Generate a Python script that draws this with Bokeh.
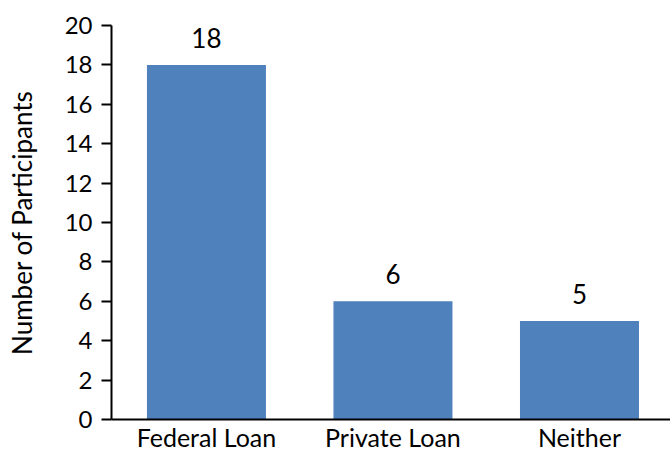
from bokeh.plotting import figure
from bokeh.models import ColumnDataSource, FixedTicker, Range1d, LabelSet
from bokeh.core.properties import value
from bokeh.embed import file_html
from bokeh.resources import INLINE

categories = ["Federal Loan", "Private Loan", "Neither"]
participants = [18, 6, 5]
y_ticks = [0, 2, 4, 6, 8, 10, 12, 14, 16, 18, 20]

xs = list(range(len(categories)))
src = ColumnDataSource(dict(x=xs, top=participants, label=[str(v) for v in participants]))

FONT = "Lato"

p = figure(width=670, height=454, output_backend="svg", toolbar_location=None,
           x_range=Range1d(-0.509, 2.488), y_range=Range1d(0, 20),
           min_border_left=111, min_border_right=0, min_border_top=25, min_border_bottom=33)
p.outline_line_color = None
p.grid.visible = False
p.background_fill_color = "white"

p.vbar(x="x", top="top", width=0.638, bottom=0, source=src, color="#4F81BD", line_color=None)

labels = LabelSet(x="x", y="top", text="label", source=src, text_align="center",
                  text_baseline="alphabetic", y_offset=17, text_font=value(FONT),
                  text_font_size="26px", text_color="black")
p.add_layout(labels)

p.xaxis.ticker = FixedTicker(ticks=xs)
p.xaxis.major_label_overrides = {i: c for i, c in enumerate(categories)}
p.xaxis.major_tick_line_color = None
p.xaxis.major_tick_out = 0
p.xaxis.major_tick_in = 0
p.xaxis.minor_tick_line_color = None
p.xaxis.axis_line_color = "black"
p.xaxis.axis_line_width = 2
p.xaxis.major_label_text_font = FONT
p.xaxis.major_label_text_font_size = "25px"
p.xaxis.major_label_text_color = "black"
p.xaxis.major_label_standoff = 2

p.yaxis.ticker = FixedTicker(ticks=y_ticks)
p.yaxis.minor_tick_line_color = None
p.yaxis.major_tick_out = 10
p.yaxis.major_tick_in = 0
p.yaxis.major_tick_line_width = 2
p.yaxis.major_tick_line_color = "black"
p.yaxis.axis_line_color = "black"
p.yaxis.axis_line_width = 2
p.yaxis.major_label_text_font = FONT
p.yaxis.major_label_text_font_size = "24px"
p.yaxis.major_label_text_color = "black"
p.yaxis.major_label_standoff = 9
p.yaxis.axis_label = "Number of Participants"
p.yaxis.axis_label_text_font = FONT
p.yaxis.axis_label_text_font_style = "normal"
p.yaxis.axis_label_text_font_size = "26px"
p.yaxis.axis_label_text_color = "black"
p.yaxis.axis_label_standoff = 24

open("out.html", "w").write(file_html(p, INLINE))
